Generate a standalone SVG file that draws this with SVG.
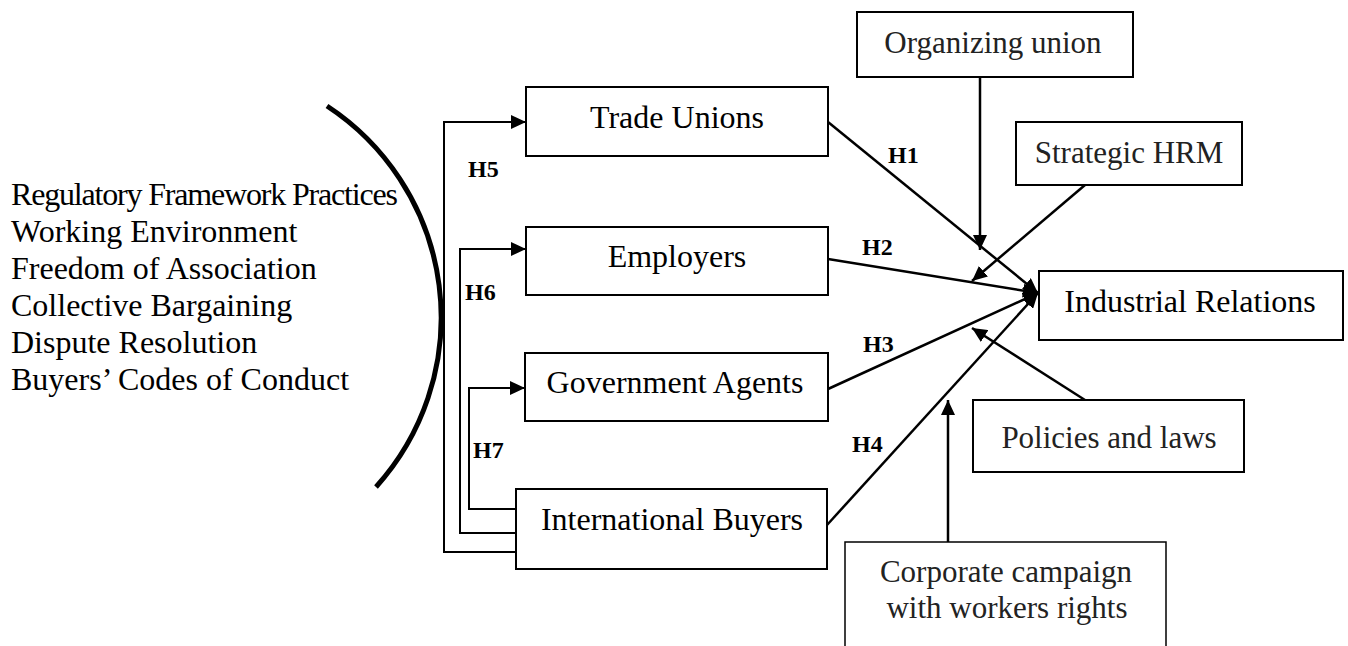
<svg xmlns="http://www.w3.org/2000/svg" width="1348" height="646" viewBox="0 0 1348 646">
  <style>
    .box { fill: #fff; stroke: #000; stroke-width: 2; }
    .lbl { font-family: "Liberation Serif", "Times New Roman", serif; font-size: 32px; fill: #000; }
    .lbl2 { font-family: "Liberation Serif", "Times New Roman", serif; font-size: 31px; fill: #222; }
    .h { font-family: "Liberation Serif", "Times New Roman", serif; font-size: 24px; font-weight: bold; fill: #000; }
    .ln { fill: none; stroke: #000; stroke-width: 2.5; }
    .ln2 { fill: none; stroke: #000; stroke-width: 2; }
  </style>
  <defs>
    <marker id="arr" markerUnits="userSpaceOnUse" markerWidth="16" markerHeight="14" refX="15" refY="7" orient="auto">
      <path d="M0,0 L15,7 L0,14 z" fill="#000"/>
    </marker>
  </defs>
  <rect width="1348" height="646" fill="#fff"/>

  <g id="factors">
    <text class="lbl" x="11" y="205" textLength="387" lengthAdjust="spacing">Regulatory Framework Practices</text>
    <text class="lbl" x="11" y="242">Working Environment</text>
    <text class="lbl" x="11" y="279">Freedom of Association</text>
    <text class="lbl" x="11" y="316">Collective Bargaining</text>
    <text class="lbl" x="11" y="353">Dispute Resolution</text>
    <text class="lbl" x="11" y="390">Buyers’ Codes of Conduct</text>
    <path d="M327,106 A253,253 0 0 1 376,487" fill="none" stroke="#000" stroke-width="5"/>
  </g>

  <g id="connectors">
    <!-- H1-H4 to Industrial Relations -->
    <line class="ln" x1="828" y1="122" x2="1038" y2="293" marker-end="url(#arr)"/>
    <line class="ln" x1="828" y1="259" x2="1038" y2="293" marker-end="url(#arr)"/>
    <line class="ln" x1="828" y1="389" x2="1038" y2="293" marker-end="url(#arr)"/>
    <line class="ln" x1="827" y1="525" x2="1038" y2="293" marker-end="url(#arr)"/>
    <!-- moderators -->
    <line class="ln" x1="980" y1="77" x2="980" y2="250" marker-end="url(#arr)"/>
    <line class="ln" x1="1085" y1="185" x2="972" y2="281" marker-end="url(#arr)"/>
    <line class="ln" x1="1085" y1="400" x2="972" y2="328" marker-end="url(#arr)"/>
    <line class="ln" x1="948" y1="542" x2="948" y2="400" marker-end="url(#arr)"/>
    <!-- H5-H7 from International Buyers -->
    <polyline class="ln2" points="516,552 444,552 444,122 526,122" marker-end="url(#arr)"/>
    <polyline class="ln2" points="516,533 460,533 460,249 526,249" marker-end="url(#arr)"/>
    <polyline class="ln2" points="516,509 469,509 469,388 525,388" marker-end="url(#arr)"/>
    <!-- labels -->
    <text class="h" x="888" y="163">H1</text>
    <text class="h" x="862" y="255">H2</text>
    <text class="h" x="863" y="352">H3</text>
    <text class="h" x="852" y="452">H4</text>
    <text class="h" x="468" y="177">H5</text>
    <text class="h" x="465" y="300">H6</text>
    <text class="h" x="473" y="458">H7</text>
  </g>

  <g id="trade-unions">
    <rect class="box" x="526" y="87" width="302" height="69"/>
    <text class="lbl" x="677" y="128" text-anchor="middle">Trade Unions</text>
  </g>
  <g id="employers">
    <rect class="box" x="526" y="227" width="302" height="68"/>
    <text class="lbl" x="677" y="267" text-anchor="middle">Employers</text>
  </g>
  <g id="government-agents">
    <rect class="box" x="525" y="353" width="303" height="68"/>
    <text class="lbl" x="675" y="393" text-anchor="middle">Government Agents</text>
  </g>
  <g id="international-buyers">
    <rect class="box" x="516" y="489" width="311" height="80"/>
    <text class="lbl" x="672" y="530" text-anchor="middle">International Buyers</text>
  </g>
  <g id="industrial-relations">
    <rect class="box" x="1039" y="271" width="304" height="69"/>
    <text class="lbl" x="1190" y="312" text-anchor="middle">Industrial Relations</text>
  </g>
  <g id="organizing-union">
    <rect class="box" x="857" y="12" width="276" height="65"/>
    <text class="lbl2" x="993" y="53" text-anchor="middle">Organizing union</text>
  </g>
  <g id="strategic-hrm">
    <rect class="box" x="1016" y="122" width="226" height="63"/>
    <text class="lbl2" x="1129" y="163" text-anchor="middle">Strategic HRM</text>
  </g>
  <g id="policies-and-laws">
    <rect class="box" x="973" y="400" width="271" height="72"/>
    <text class="lbl2" x="1109" y="448" text-anchor="middle">Policies and laws</text>
  </g>
  <g id="corporate-campaign">
    <path d="M845,650 L845,542 L1166,542 L1166,650" fill="#fff" stroke="#000" stroke-width="1.5"/>
    <text class="lbl2" x="1006" y="582" text-anchor="middle">Corporate campaign</text>
    <text class="lbl2" x="1007" y="618" text-anchor="middle">with workers rights</text>
  </g>
</svg>
